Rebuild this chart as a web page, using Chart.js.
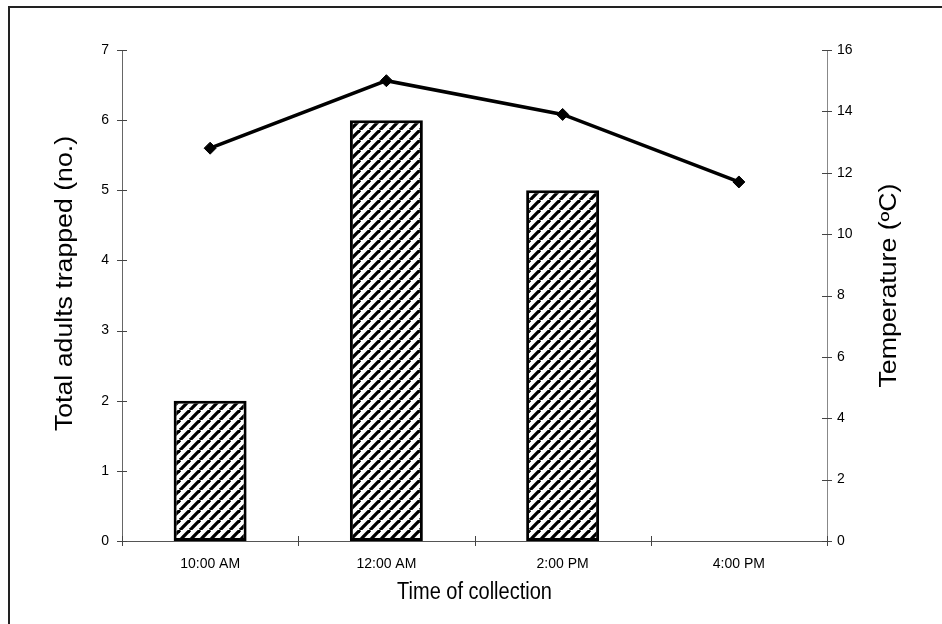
<!DOCTYPE html>
<html>
<head>
<meta charset="utf-8">
<script src="https://cdn.jsdelivr.net/npm/chart.js@4.4.1/dist/chart.umd.min.js"></script>
<style>
  body { margin: 0; background: #fff; }
  canvas { display: block; }
</style>
</head>
<body>
<canvas id="chart" width="942" height="624"></canvas>
<script>
const categories = ["10:00 AM", "12:00 AM", "2:00 PM", "4:00 PM"];
const adultsTrapped = [2, 6, 5, 0];
const temperature = [12.8, 15.0, 13.9, 11.7];

const leftTitle = "Total adults trapped (no.)";
const rightTitle = "Temperature (ºC)";
const xTitle = "Time of collection";

const FONT = "'Liberation Sans', Arial, sans-serif";

// diagonal hatch used to fill the bars
function makeHatch() {
  const w = 10, h = 10;
  const c = document.createElement("canvas");
  c.width = w;
  c.height = h;
  const g = c.getContext("2d");
  g.fillStyle = "#fff";
  g.fillRect(0, 0, w, h);
  g.strokeStyle = "#000";
  g.lineWidth = 3.3;
  for (const x0 of [-w, 0, w]) {
    g.beginPath();
    g.moveTo(x0, h);
    g.lineTo(x0 + w, 0);
    g.stroke();
  }
  return g.createPattern(c, "repeat");
}

const ctx = document.getElementById("chart").getContext("2d");

// frame, crossing tick marks and stretched titles
const decorations = {
  id: "decorations",
  beforeDraw(chart) {
    const c = chart.ctx;
    c.save();
    c.strokeStyle = "#222";
    c.lineWidth = 2;
    c.strokeRect(9, 7, 1000, 1000);
    c.restore();
  },
  afterDraw(chart) {
    const c = chart.ctx;
    const { x, y, y2 } = chart.scales;
    c.save();
    c.strokeStyle = "#444";
    c.lineWidth = 1;
    c.beginPath();
    y.ticks.forEach((t, i) => {
      const py = Math.round(y.getPixelForTick(i)) + 0.5;
      c.moveTo(y.right - 5, py);
      c.lineTo(y.right + 5, py);
    });
    y2.ticks.forEach((t, i) => {
      const py = Math.round(y2.getPixelForTick(i)) + 0.5;
      c.moveTo(y2.left - 5, py);
      c.lineTo(y2.left + 5, py);
    });
    const step = x.getPixelForTick(1) - x.getPixelForTick(0);
    for (let i = 0; i <= categories.length; i++) {
      const px = Math.round(x.getPixelForTick(0) - step / 2 + i * step) + 0.5;
      c.moveTo(px, x.top - 5);
      c.lineTo(px, x.top + 5);
    }
    c.stroke();

    c.fillStyle = "#000";
    c.textAlign = "center";
    const midY = (chart.chartArea.top + chart.chartArea.bottom) / 2;

    c.font = "23px " + FONT;
    c.textBaseline = "middle";
    c.save();
    c.translate(65.5, midY - 12);
    c.rotate(-Math.PI / 2);
    c.scale(1.16, 1);
    c.fillText(leftTitle, 0, 0);
    c.restore();

    c.save();
    c.translate(890, midY - 10);
    c.rotate(-Math.PI / 2);
    c.scale(1.16, 1);
    c.fillText(rightTitle, 0, 0);
    c.restore();

    c.font = "20px " + FONT;
    c.textBaseline = "alphabetic";
    c.save();
    c.translate((chart.chartArea.left + chart.chartArea.right) / 2, 599);
    c.scale(1, 1.16);
    c.fillText(xTitle, 0, 0);
    c.restore();
    c.restore();
  },
};

new Chart(ctx, {
  type: "bar",
  data: {
    labels: categories,
    datasets: [
      {
        type: "line",
        data: temperature,
        yAxisID: "y2",
        order: 0,
        borderColor: "#000",
        borderWidth: 3.5,
        tension: 0,
        pointStyle: "rectRot",
        pointRadius: 6,
        pointBackgroundColor: "#000",
        pointBorderColor: "#000",
        pointBorderWidth: 1,
      },
      {
        type: "bar",
        data: adultsTrapped,
        yAxisID: "y",
        order: 1,
        backgroundColor: makeHatch(),
        borderColor: "#000",
        borderWidth: 3,
        borderSkipped: false,
        categoryPercentage: 1,
        barPercentage: 0.414,
      },
    ],
  },
  options: {
    responsive: false,
    animation: false,
    layout: { padding: { top: 50, left: 0, right: 0, bottom: 0 } },
    plugins: {
      legend: { display: false },
      tooltip: { enabled: false },
    },
    scales: {
      x: {
        grid: { display: false, drawTicks: false },
        border: { display: true, color: "#555", width: 1 },
        ticks: { color: "#000", font: { family: FONT, size: 14 }, padding: 15, maxRotation: 0 },
        afterFit: (s) => { s.height = 83; },
      },
      y: {
        position: "left",
        min: 0,
        max: 7,
        grid: { display: false, drawTicks: false },
        border: { display: true, color: "#666", width: 1 },
        ticks: { stepSize: 1, color: "#000", font: { family: FONT, size: 14 }, padding: 13 },
        afterFit: (s) => { s.width = 122; },
      },
      y2: {
        position: "right",
        min: 0,
        max: 16,
        grid: { display: false, drawTicks: false },
        border: { display: true, color: "#888", width: 1 },
        ticks: { stepSize: 2, color: "#000", font: { family: FONT, size: 14 }, padding: 10 },
        afterFit: (s) => { s.width = 115; },
      },
    },
  },
  plugins: [decorations],
});
</script>
</body>
</html>
